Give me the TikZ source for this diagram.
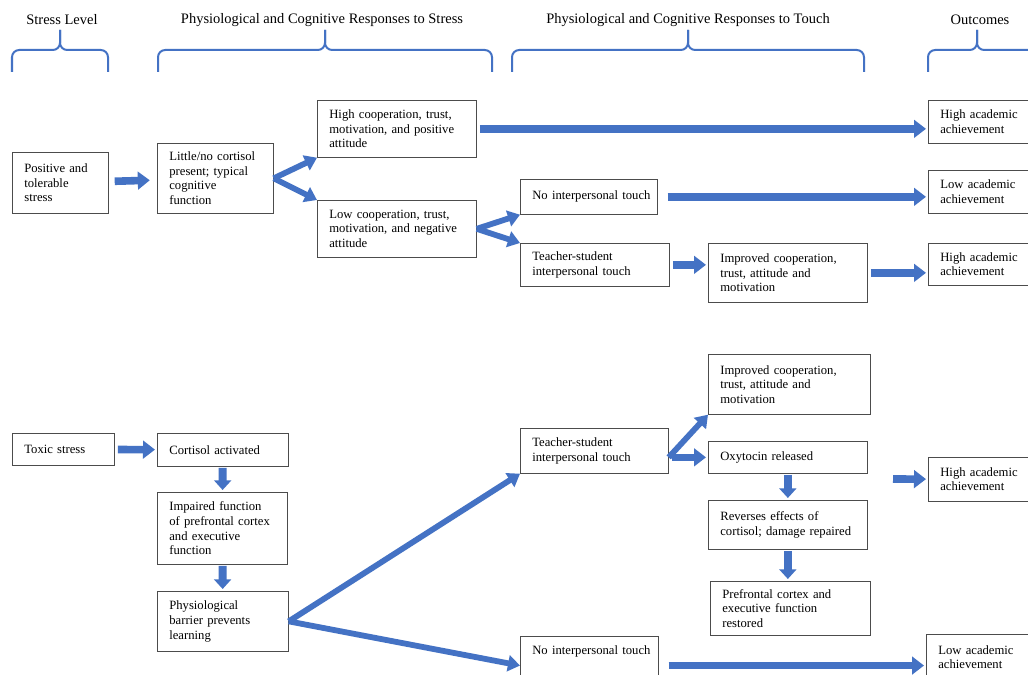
\documentclass[tikz,border=0pt]{standalone}
\usepackage{fontspec}
\setmainfont{Liberation Serif}
\usepackage{tikz}
\usetikzlibrary{arrows.meta}
\definecolor{arrowblue}{RGB}{68,114,196}
\newcommand\boxfont{\fontsize{9}{10.4}\selectfont}
\newcommand\headfont{\fontsize{10.3}{12}\selectfont}
\newcommand\topbrace[3]{%
\draw[bracket] (#1,72) -- (#1,50) -- (#2,50) -- (#2,30);
\draw[bracket] (#3,72) -- (#3,50) -- (#2,50) -- (#2,30);
}
\newcommand\flowbox[7][]{%
\pgfmathsetlengthmacro\boxwd{#5*0.025cm}%
\pgfmathsetlengthmacro\boxht{#6*0.025cm}%
\pgfmathsetlengthmacro\boxtw{#5*0.025cm-0.3cm}%
\node[box, anchor=north west, minimum width=\boxwd, minimum height=\boxht, text width=\boxtw, #1] (#2) at (#3,#4) {\raggedright\leftskip=0.15cm\relax #7\par};
}

\begin{document}
\begin{tikzpicture}[x=0.025cm, y=-0.025cm,
	box/.style={draw=black!70, line width=0.5pt, fill=white, inner xsep=0.15cm, inner ysep=0.1cm, font=\boxfont},
	head/.style={font=\headfont, inner sep=1pt},
	bracket/.style={draw=arrowblue, line width=0.5mm, rounded corners=0.18cm},
	flowarrow/.style={draw=arrowblue, line width=1.9mm, -{Triangle[length=3mm,width=4.4mm]}, shorten <=0.08cm, shorten >=0.05cm},
	brancharrow/.style={draw=arrowblue, line width=1.45mm, -{Triangle[length=3mm,width=4mm]}},
	droparrow/.style={draw=arrowblue, line width=2mm, -{Triangle[length=2.4mm,width=4.2mm]}, shorten <=0.03cm, shorten >=0.05cm}]
	%% frame of the figure
	\useasboundingbox (0,0) rectangle (1028,675);
	\clip (0,0) rectangle (1028,675);
	\fill[white] (0,0) rectangle (1028,675);
	
	% column headings
	\node[head] (hLevel) at (62,20) {Stress Level};
	\node[head] (hStress) at (322,20) {Physiological and Cognitive Responses to Stress};
	\node[head] (hTouch) at (688,20) {Physiological and Cognitive Responses to Touch};
	\node[head] (hOut) at (980,20) {Outcomes};
	
	\topbrace{12}{60}{108}
	\topbrace{158}{325}{492}
	\topbrace{512}{688}{864}
	\topbrace{928}{977}{1060}
	
	% positive and tolerable stress
	\flowbox{pos}{12}{152}{96}{61}{Positive and\\ tolerable\\ stress}
	\flowbox{little}{157}{143}{116}{70}{Little/no cortisol\\ present; typical\\ cognitive\\ function}
	\flowbox{highcoop}{317}{100}{159}{57}{High cooperation, trust,\\ motivation, and positive\\ attitude}
	\flowbox{lowcoop}{317}{200}{159}{57}{Low cooperation, trust,\\ motivation, and negative\\ attitude}
	\flowbox{notouchA}{520}{179}{137}{35}{No interpersonal touch}
	\flowbox{touchA}{520}{243}{149}{43}{Teacher-student\\ interpersonal touch}
	\flowbox{improvedA}{708}{243}{159}{59}{Improved cooperation,\\ trust, attitude and\\ motivation}
	\flowbox{highA}{928}{100}{110}{43}{High academic\\ achievement}
	\flowbox{lowA}{928}{170}{110}{43}{Low academic\\ achievement}
	\flowbox{highB}{928}{243}{110}{42}{High academic\\ achievement}
	
	\draw[flowarrow, shorten <=0.15cm, shorten >=0.18cm] (pos) -- (little);
	\draw[brancharrow] (little.east) -- (highcoop.south west);
	\draw[brancharrow] (little.east) -- (lowcoop.north west);
	\draw[flowarrow] (highcoop.east) -- (highcoop.east -| highA.west);
	\draw[brancharrow] (lowcoop.east) -- (notouchA.south west);
	\draw[brancharrow] (lowcoop.east) -- (touchA.north west);
	\draw[flowarrow, shorten <=0.25cm] (notouchA.east) -- (notouchA.east -| lowA.west);
	\draw[flowarrow] (touchA.east) -- (touchA.east -| improvedA.west);
	\draw[flowarrow] (improvedA.east) -- (improvedA.east -| highB.west);
	
	% toxic stress
	\flowbox{toxic}{12}{433}{102}{32}{Toxic stress}
	\flowbox{cortisol}{157}{433}{131}{33}{Cortisol activated}
	\flowbox{impaired}{157}{492}{130}{72}{Impaired function\\ of prefrontal cortex\\ and executive\\ function}
	\flowbox{barrier}{157}{591}{131}{60}{Physiological\\ barrier prevents\\ learning}
	\flowbox{touchB}{520}{428}{148}{45}{Teacher-student\\ interpersonal touch}
	\flowbox{improvedB}{708}{354}{162}{60}{Improved cooperation,\\ trust, attitude and\\ motivation}
	\flowbox{oxytocin}{708}{441}{159}{32}{Oxytocin released}
	\flowbox{reverses}{708}{500}{159}{49}{Reverses effects of\\ cortisol; damage repaired}
	\flowbox{restored}{710}{581}{160}{54}{Prefrontal cortex and\\ executive function\\ restored}
	\flowbox{highC}{928}{457}{110}{44}{High academic\\ achievement}
	\flowbox[text height=0.36cm, text depth=0.9cm]{notouchB}{520}{636}{138}{0}{No interpersonal touch}
	\flowbox{lowB}{926}{634}{112}{46}{Low academic\\ achievement}
	\coordinate (toHigh) at (893,479);
	
	\draw[flowarrow] (toxic) -- (cortisol);
	\draw[droparrow] (cortisol) -- (impaired);
	\draw[droparrow] (impaired) -- (barrier);
	\draw[brancharrow] (barrier.east) -- (touchB.south west);
	\draw[brancharrow] (barrier.east) -- (notouchB.west);
	\draw[brancharrow] (touchB.east |- oxytocin.west) -- (improvedB.south west);
	\draw[flowarrow] (touchB.east |- oxytocin.west) -- (oxytocin.west);
	\draw[droparrow] (oxytocin) -- (reverses);
	\draw[droparrow] (reverses.south) -- (reverses.south |- restored.north);
	\draw[flowarrow, shorten <=0pt] (toHigh) -- (highC);
	\draw[flowarrow, shorten <=0.25cm] (notouchB.west -| notouchB.east) -- (notouchB.west -| lowB.west);
	
\end{tikzpicture}
\end{document}
